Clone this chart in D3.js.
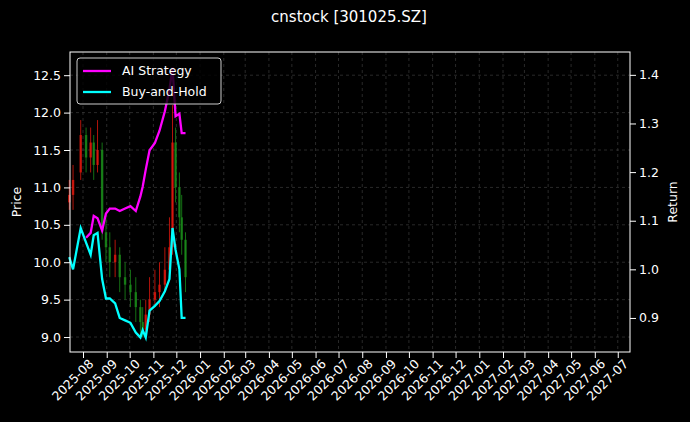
<!DOCTYPE html><html><head><meta charset="utf-8">
<script src="https://cdn.jsdelivr.net/npm/d3@7"></script>
<style>body{margin:0;background:#000}svg{font-family:"DejaVu Sans",sans-serif}</style></head><body>
<svg id="c" width="690" height="422"></svg>
<script>
const dates=["2025-07-14","2025-07-19","2025-07-29","2025-08-05","2025-08-11","2025-08-15","2025-08-20","2025-08-26","2025-08-31","2025-09-05","2025-09-12","2025-09-18","2025-09-25","2025-10-02","2025-10-09","2025-10-15","2025-10-18","2025-10-22","2025-10-27","2025-11-03","2025-11-09","2025-11-16","2025-11-22","2025-11-26","2025-11-30","2025-12-05","2025-12-08","2025-12-13"];
const open =[10.8,10.9,11.2,11.7,11.4,11.6,11.3,11.5,10.4,10.2,10.0,10.1,9.8,9.7,9.6,9.4,9.2,9.1,9.3,9.5,9.6,9.7,9.9,10.2,11.6,11.0,10.6,10.3];
const close=[10.9,11.1,11.7,11.4,11.6,11.3,11.5,10.4,10.2,10.0,10.1,9.8,9.7,9.6,9.4,9.2,9.1,9.3,9.5,9.6,9.7,9.9,10.2,11.6,11.0,10.6,10.3,9.8];
const high =[11.1,11.3,11.9,11.8,11.8,11.7,11.9,11.6,10.6,10.4,10.3,10.2,10.0,9.9,9.8,9.5,9.4,9.5,9.8,9.9,10.0,10.2,10.6,12.1,11.8,11.2,10.9,10.4];
const low  =[10.7,10.7,11.1,11.2,11.2,11.1,11.2,10.3,10.0,9.8,9.8,9.6,9.5,9.4,9.2,9.0,9.0,9.0,9.2,9.4,9.4,9.6,9.8,10.1,10.8,10.4,10.1,9.6];
const buyHold=[1.025,1.0,1.085,1.055,1.03,1.07,1.075,0.98,0.94,0.94,0.93,0.90,0.895,0.89,0.87,0.86,0.875,0.86,0.915,0.925,0.935,0.955,0.98,1.085,1.04,1.0,0.90,0.90];
const aiStrategy=[null,null,null,1.065,1.075,1.11,1.105,1.08,1.115,1.125,1.125,1.12,1.125,1.13,1.12,1.15,1.17,1.205,1.245,1.26,1.285,1.325,1.37,1.415,1.315,1.32,1.28,1.28];
const priceTicks=[9.0,9.5,10.0,10.5,11.0,11.5,12.0,12.5];
const returnTicks=[0.9,1.0,1.1,1.2,1.3,1.4];

const svg=d3.select("#c");
const L=70,R=630,T=52,B=352;
const p=d3.timeParse("%Y-%m-%d");
const x=d3.scaleTime().domain([p("2025-07-15"),p("2027-07-17")]).range([L,R]);
const y=d3.scaleLinear().domain([8.80,12.81]).range([B,T]);
const y2=d3.scaleLinear().domain([0.83,1.447]).range([B,T]);
svg.append("rect").attr("width",690).attr("height",422).attr("fill","#000");
const months=d3.timeMonth.range(p("2025-08-01"),p("2027-07-02"));
const grid=svg.append("g").attr("stroke","#444").attr("stroke-dasharray","3,3").attr("stroke-width",0.6);
months.forEach(m=>grid.append("line").attr("x1",x(m)).attr("x2",x(m)).attr("y1",T).attr("y2",B));
priceTicks.forEach(v=>grid.append("line").attr("x1",L).attr("x2",R).attr("y1",y(v)).attr("y2",y(v)));
const g=svg.append("g");
dates.forEach((d,i)=>{
  const c=close[i]>=open[i]?"#e0180e":"#1a8c1a";
  const xx=x(p(d));
  g.append("line").attr("x1",xx).attr("x2",xx).attr("y1",y(high[i])).attr("y2",y(low[i])).attr("stroke",c).attr("stroke-width",1).attr("opacity",0.8);
  g.append("rect").attr("x",xx-1.2).attr("width",2.4).attr("y",y(Math.max(open[i],close[i]))).attr("height",Math.max(1,Math.abs(y(open[i])-y(close[i])))).attr("fill",c).attr("opacity",0.8);
});
const line=d3.line().defined(d=>d[1]!=null).x(d=>x(p(d[0]))).y(d=>y2(d[1]));
g.append("path").attr("d",line(dates.map((d,i)=>[d,aiStrategy[i]]))).attr("fill","none").attr("stroke","#ff00ff").attr("stroke-width",2.3);
g.append("path").attr("d",line(dates.map((d,i)=>[d,buyHold[i]]))).attr("fill","none").attr("stroke","#00ffff").attr("stroke-width",2.3);
svg.append("rect").attr("x",L).attr("y",T).attr("width",R-L).attr("height",B-T).attr("fill","none").attr("stroke","#fff");
const xa=svg.append("g").attr("transform",`translate(0,${B})`).call(d3.axisBottom(x).tickValues(months).tickFormat(d3.timeFormat("%Y-%m")).tickSizeOuter(0));
xa.selectAll("text").attr("transform","rotate(-45)").attr("text-anchor","end").attr("dx","-0.1em").attr("dy","0.6em");
const ya=svg.append("g").attr("transform",`translate(${L},0)`).call(d3.axisLeft(y).tickValues(priceTicks).tickFormat(d3.format(".1f")).tickSizeOuter(0));
const ya2=svg.append("g").attr("transform",`translate(${R},0)`).call(d3.axisRight(y2).tickValues(returnTicks).tickFormat(d3.format(".1f")).tickSizeOuter(0));
[xa,ya,ya2].forEach(a=>{a.select(".domain").remove();a.selectAll("line").attr("stroke","#fff");a.selectAll("text").attr("fill","#fff").attr("font-size",12.5).attr("font-family","DejaVu Sans");});
svg.append("text").attr("x",349).attr("y",22).attr("text-anchor","middle").attr("fill","#fff").attr("font-size",15).text("cnstock [301025.SZ]");
svg.append("text").attr("transform","translate(21,202) rotate(-90)").attr("text-anchor","middle").attr("fill","#fff").attr("font-size",12.5).text("Price");
svg.append("text").attr("transform","translate(677,202) rotate(-90)").attr("text-anchor","middle").attr("fill","#fff").attr("font-size",12.5).text("Return");
const lg=svg.append("g").attr("transform","translate(77,58)");
lg.append("rect").attr("width",144).attr("height",46).attr("rx",3).attr("fill","#000").attr("fill-opacity",0.8).attr("stroke","#ccc");
[["AI Strategy","#ff00ff"],["Buy-and-Hold","#00ffff"]].forEach((e,i)=>{
  lg.append("line").attr("x1",6).attr("x2",34).attr("y1",13+i*21).attr("y2",13+i*21).attr("stroke",e[1]).attr("stroke-width",2.3);
  lg.append("text").attr("x",45).attr("y",17+i*21).attr("fill","#fff").attr("font-size",12.5).text(e[0]);
});
</script></body></html>
